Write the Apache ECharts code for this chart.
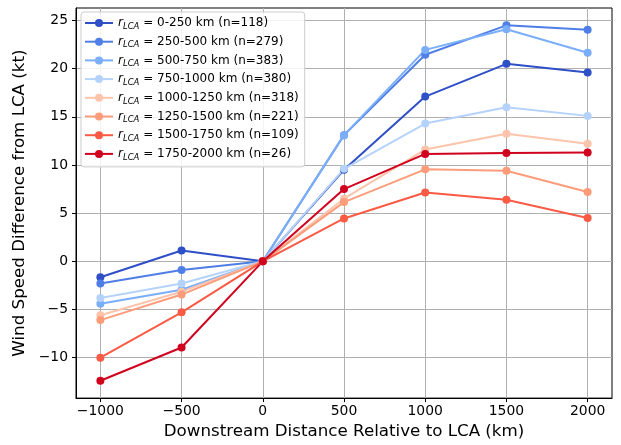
<!DOCTYPE html>
<html><head><meta charset="utf-8">
<script src="https://cdn.jsdelivr.net/npm/echarts@6/dist/echarts.min.js"></script>
<style>html,body{margin:0;padding:0;background:#fff}#c{width:621px;height:445px}</style>
</head><body><div id="c"></div>
<script>
const distances = [-1000, -500, 0, 500, 1000, 1500, 2000];
const xTicks = [-1000, -500, 0, 500, 1000, 1500, 2000];
const yTicks = [-10, -5, 0, 5, 10, 15, 20, 25];
const seriesNames = ['0-250 km (n=118)', '250-500 km (n=279)', '500-750 km (n=383)', '750-1000 km (n=380)',
  '1000-1250 km (n=318)', '1250-1500 km (n=221)', '1500-1750 km (n=109)', '1750-2000 km (n=26)'];
const s0_250 = [-1.65, 1.13, 0, 9.5, 17.1, 20.5, 19.6];
const s250_500 = [-2.3, -0.9, 0, 13.1, 21.45, 24.5, 24.05];
const s500_750 = [-4.4, -2.95, 0, 13.1, 21.95, 24.1, 21.65];
const s750_1000 = [-3.8, -2.3, 0, 9.6, 14.3, 16.0, 15.1];
const s1000_1250 = [-5.6, -3.15, 0, 6.5, 11.6, 13.25, 12.2];
const s1250_1500 = [-6.1, -3.45, 0, 6.15, 9.55, 9.4, 7.2];
const s1500_1750 = [-10.0, -5.3, 0, 4.45, 7.15, 6.4, 4.5];
const s1750_2000 = [-12.4, -8.95, 0, 7.5, 11.15, 11.25, 11.3];
const allValues = [s0_250, s250_500, s500_750, s750_1000, s1000_1250, s1250_1500, s1500_1750, s1750_2000];
const colors = ['#2f4fc7', '#4f7fe6', '#7aaef9', '#b5d3fa', '#fcc4ab', '#fc9c7a', '#fb5a44', '#d0021e'];

const font = 'DejaVu Sans';
const minus = v => String(v).replace('-', '\u2212');

const series = allValues.map((vals, i) => ({
  name: seriesNames[i],
  type: 'line',
  data: distances.map((d, j) => [d, vals[j]]),
  symbol: 'circle',
  symbolSize: 8,
  lineStyle: { width: 2, color: colors[i] },
  itemStyle: { color: colors[i] },
  emphasis: { disabled: true },
  animation: false
}));

const chart = echarts.init(document.getElementById('c'), null, { renderer: 'canvas' });
chart.setOption({
  backgroundColor: '#fff',
  animation: false,
  grid: { left: 76, right: 9, top: 8, bottom: 44, show: true, borderColor: '#000', borderWidth: 1, backgroundColor: 'transparent' },
  legend: {
    orient: 'vertical', left: 81, top: 12,
    itemWidth: 28, itemHeight: 10, itemGap: 4.7,
    padding: [5, 6, 5, 3],
    backgroundColor: 'rgba(255,255,255,0.85)',
    borderColor: '#cccccc', borderWidth: 1, borderRadius: 3,
    data: seriesNames,
    formatter: n => '{i|r}{s|LCA}{n| = ' + n + '}',
    textStyle: {
      fontFamily: font, fontSize: 12, color: '#000',
      rich: {
        i: { fontFamily: font, fontStyle: 'italic', fontSize: 12, color: '#000' },
        s: { fontFamily: font, fontStyle: 'italic', fontSize: 8.5, color: '#000', padding: [7, 0, 0, 0] },
        n: { fontFamily: font, fontSize: 12, color: '#000' }
      }
    }
  },
  xAxis: {
    type: 'value', min: -1150, max: 2150,
    name: 'Downstream Distance Relative to LCA (km)', nameLocation: 'middle', nameGap: 23,
    nameTextStyle: { fontFamily: font, fontSize: 16.7, color: '#000' },
    axisLine: { show: true, onZero: false, lineStyle: { color: '#000', width: 1 } },
    axisTick: { show: true, length: 4, inside: false, customValues: xTicks, lineStyle: { color: '#000' } },
    axisLabel: { customValues: xTicks, formatter: minus, fontFamily: font, fontSize: 13.9, color: '#000', margin: 6 },
    splitLine: { show: true, lineStyle: { color: '#b0b0b0', width: 1 } }
  },
  yAxis: {
    type: 'value', min: -14.2, max: 26.3,
    name: 'Wind Speed Difference from LCA (kt)', nameLocation: 'middle', nameGap: 46,
    nameTextStyle: { fontFamily: font, fontSize: 16.7, color: '#000' },
    axisLine: { show: true, onZero: false, lineStyle: { color: '#000', width: 1 } },
    axisTick: { show: true, length: 4, inside: false, customValues: yTicks, lineStyle: { color: '#000' } },
    axisLabel: { customValues: yTicks, formatter: minus, fontFamily: font, fontSize: 13.9, color: '#000', margin: 8 },
    splitLine: { show: true, lineStyle: { color: '#b0b0b0', width: 1 } }
  },
  series: series
});
</script></body></html>
